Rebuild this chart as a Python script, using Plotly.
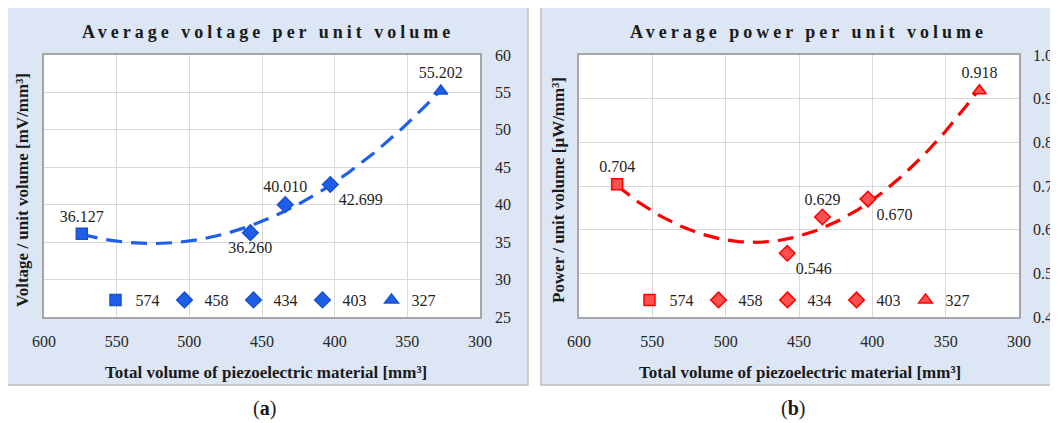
import numpy as np
import plotly.graph_objects as go

# ---- data ----
volumes = [574, 458, 434, 403, 327]
names = ["574", "458", "434", "403", "327"]
voltage = [36.127, 36.260, 40.010, 42.699, 55.202]
power = [0.704, 0.546, 0.629, 0.670, 0.918]
symbols = ["square", "diamond", "diamond", "diamond", "triangle-up"]
volt_labels = ["36.127", "36.260", "40.010", "42.699", "55.202"]
pow_labels = ["0.704", "0.546", "0.629", "0.670", "0.918"]
volt_textpos = ["top center", "bottom center", "top center", "bottom right", "top center"]
pow_textpos = ["top center", "bottom right", "top center", "bottom right", "top center"]

# page has the browser's default 8px body margin -> figure starts at (8, 8)
OFF = 8
W, H = 1058 - OFF, 423 - OFF
FONT = "Liberation Serif, Times New Roman, serif"
BLUE = "#1F5FE8"
BLUE_D = "#1A50D0"
RED = "#FF0000"
RED_F = "#FF4F4F"


def px_x(p):
    return (p - OFF) / W


def px_y(p):
    return 1 - (p - OFF) / H


fig = go.Figure()


def add_chart(vals, labels, tpos, xa, ya, legend, color, fill, lcolor):
    c = np.polyfit(volumes, vals, 2)
    xs = np.linspace(max(volumes), min(volumes), 120)
    fig.add_trace(go.Scatter(x=xs, y=np.polyval(c, xs), mode="lines",
                             line=dict(color=color, width=3.2, dash="16px,9px"),
                             showlegend=False, hoverinfo="skip",
                             xaxis=xa, yaxis=ya))
    for v, y, n, s, lab, tp in zip(volumes, vals, names, symbols, labels, tpos):
        fig.add_trace(go.Scatter(
            x=[v], y=[y], name=n, mode="markers+text",
            text=[lab], textposition=tp,
            textfont=dict(family=FONT, size=16, color="#1f1f1f"),
            marker=dict(symbol=s, size=12 if s != "square" else 11, color=fill,
                        line=dict(color=lcolor, width=1.5)),
            xaxis=xa, yaxis=ya, legend=legend))


add_chart(voltage, volt_labels, volt_textpos, "x", "y", "legend", BLUE, BLUE, BLUE_D)
add_chart(power, pow_labels, pow_textpos, "x2", "y2", "legend2", RED, RED_F, RED)

tickfont = dict(family=FONT, size=16, color="#262626")
axcommon = dict(showgrid=True, gridcolor="#D9D9D9", gridwidth=1,
                showline=True, mirror=True, linecolor="#A6A6A6", linewidth=1.5,
                zeroline=False, tickfont=tickfont, ticks="", automargin=False)

ytop, ybot = px_y(55), px_y(317)
legfont = dict(family=FONT, size=16, color="#1f1f1f")
fig.update_layout(
    width=W, height=H,
    margin=dict(l=0, r=0, t=0, b=0, pad=0, autoexpand=False),
    paper_bgcolor="white",
    plot_bgcolor="white",
    font=dict(family=FONT, color="#262626"),
    xaxis=dict(domain=[px_x(44), px_x(480)], range=[600, 300], dtick=50,
               anchor="y", ticklabelstandoff=9, **axcommon),
    yaxis=dict(domain=[ybot, ytop], range=[25, 60], dtick=5, side="right",
               anchor="x", ticklabelstandoff=10, **axcommon),
    xaxis2=dict(domain=[px_x(579), px_x(1019)], range=[600, 300], dtick=50,
                anchor="y2", ticklabelstandoff=9, **axcommon),
    yaxis2=dict(domain=[ybot, ytop], range=[0.4, 1.0], dtick=0.1, tickformat=".1f",
                side="right", anchor="x2", ticklabelstandoff=9, **axcommon),
    legend=dict(orientation="h", x=px_x(268), y=px_y(300), xanchor="center",
                yanchor="middle", bgcolor="rgba(0,0,0,0)", font=legfont,
                itemwidth=30, tracegroupgap=0),
    legend2=dict(orientation="h", x=px_x(802), y=px_y(300), xanchor="center",
                 yanchor="middle", bgcolor="rgba(0,0,0,0)", font=legfont,
                 itemwidth=30, tracegroupgap=0),
    showlegend=True,
)

# panel backgrounds
for x0, x1 in [(6, 528), (541, 1080)]:
    fig.add_shape(type="rect", xref="paper", yref="paper",
                  x0=px_x(x0), x1=px_x(x1), y0=px_y(385), y1=px_y(7),
                  fillcolor="#DCE6F4", line=dict(color="#BFBFBF", width=1.5),
                  layer="below")
# white plot areas
for xr, yr in [("x domain", "y domain"), ("x2 domain", "y2 domain")]:
    fig.add_shape(type="rect", xref=xr, yref=yr, x0=0, x1=1, y0=0, y1=1,
                  fillcolor="white", line=dict(width=0), layer="below")

SP = '<span style="letter-spacing:4px">'
ann = [
    dict(x=px_x(268), y=px_y(32), text=SP + "<b>Average voltage per unit volume</b></span>", size=18, angle=0),
    dict(x=px_x(808), y=px_y(32), text=SP + "<b>Average power per unit volume</b></span>", size=18, angle=0),
    dict(x=px_x(266), y=px_y(372), text="<b>Total volume of piezoelectric material [mm³]</b>", size=17, angle=0),
    dict(x=px_x(800), y=px_y(372), text="<b>Total volume of piezoelectric material [mm³]</b>", size=17, angle=0),
    dict(x=px_x(22), y=px_y(190), text="<b>Voltage / unit volume [mV/mm³]</b>", size=17, angle=-90),
    dict(x=px_x(558), y=px_y(190), text="<b>Power / unit volume [μW/mm³]</b>", size=17, angle=-90),
    dict(x=px_x(264), y=px_y(408), text="(<b>a</b>)", size=20, angle=0),
    dict(x=px_x(793), y=px_y(408), text="(<b>b</b>)", size=20, angle=0),
]
for a in ann:
    fig.add_annotation(x=a["x"], y=a["y"], xref="paper", yref="paper",
                       text=a["text"], showarrow=False, textangle=a["angle"],
                       xanchor="center", yanchor="middle",
                       font=dict(family=FONT, size=a["size"], color="#1a1a1a"))

fig.write_html("out.html", config={"displayModeBar": False})
